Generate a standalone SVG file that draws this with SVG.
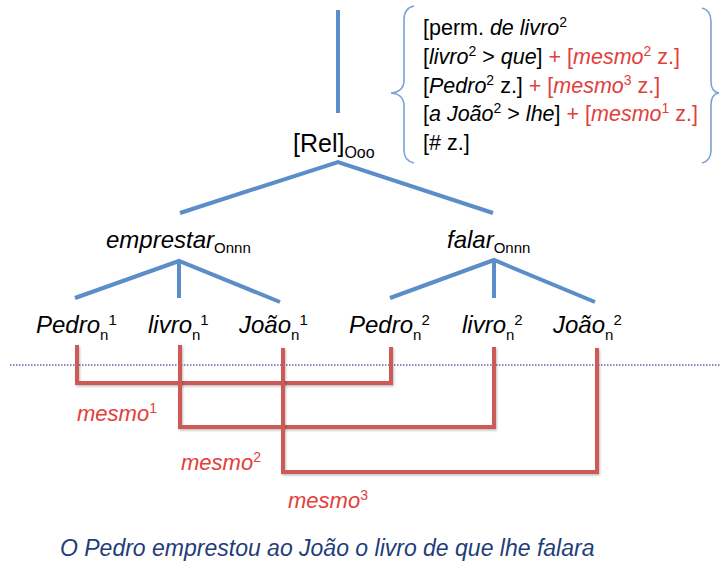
<svg xmlns="http://www.w3.org/2000/svg" width="720" height="564" viewBox="0 0 720 564">
<style>
text{font-family:"Liberation Sans",Arial,sans-serif;}
.lbl{font-size:24px;font-style:italic;fill:#000;}
.sub{font-size:15px;font-style:normal;}
.box{font-size:21.5px;fill:#000;}
.i{font-style:italic;}
.r{fill:#E2403B;}
.sup{font-size:14px;}
.mesmo{font-size:22px;font-style:italic;fill:#E2403B;}
.tree{fill:none;stroke:#5B8DC9;stroke-width:4;}
.link{fill:none;stroke:#CD5A55;stroke-width:4;filter:url(#sh);}
.brace{fill:none;stroke:#7BA3D4;stroke-width:1.6;}
</style>
<defs>
<filter id="sh" x="-5%" y="-5%" width="110%" height="120%">
<feDropShadow dx="1" dy="1.5" stdDeviation="1" flood-color="#000" flood-opacity="0.25"/>
</filter>
</defs>
<rect width="720" height="564" fill="#fff"/>
<line x1="10" y1="365" x2="720" y2="365" stroke="#6363B8" stroke-width="1.6" stroke-dasharray="1.5 1.5"/>
<g id="connectors">
<path class="tree" d="M338,10 V113"/>
<path class="tree" d="M180,213 L338,162 L493,213"/>
<path class="tree" d="M75,298 L179,261 L280,302 M179,261 V298"/>
<path class="tree" d="M390,298 L494,260 L595,302 M494,260 V298"/>
<path class="link" d="M77,345 V383 H391 V347"/>
<path class="link" d="M180,345 V427 H494 V347"/>
<path class="link" d="M283,348 V472 H597 V348"/>
</g>
<g id="rel"><text x="293" y="152" style="font-size:25px">[Rel]<tspan style="font-size:16px" dy="6">Ooo</tspan></text></g>
<g id="features">
<path class="brace" d="M414,6 Q404,8 404,20 L404,80 Q404,92 391,93 Q404,94 404,106 L404,150 Q404,161 414,163"/>
<path class="brace" d="M702,8 Q711,10 711,22 L711,81 Q711,92 719,93 Q711,94 711,105 L711,150 Q711,161 702,163"/>
<text class="box" x="423" y="35">[perm. <tspan class="i">de livro</tspan><tspan class="sup" dy="-8">2</tspan></text>
<text class="box" x="423" y="64">[<tspan class="i">livro</tspan><tspan class="sup" dy="-8">2</tspan><tspan dy="8"> &gt; </tspan><tspan class="i">que</tspan>]<tspan class="r"> + [<tspan class="i">mesmo</tspan><tspan class="sup" dy="-8">2</tspan><tspan dy="8"> z.]</tspan></tspan></text>
<text class="box" x="423" y="93">[<tspan class="i">Pedro</tspan><tspan class="sup" dy="-8">2</tspan><tspan dy="8"> z.]</tspan><tspan class="r"> + [<tspan class="i">mesmo</tspan><tspan class="sup" dy="-8">3</tspan><tspan dy="8"> z.]</tspan></tspan></text>
<text class="box" x="423" y="121">[<tspan class="i">a João</tspan><tspan class="sup" dy="-8">2</tspan><tspan dy="8"> &gt; </tspan><tspan class="i">lhe</tspan>]<tspan class="r"> + [<tspan class="i">mesmo</tspan><tspan class="sup" dy="-8">1</tspan><tspan dy="8"> z.]</tspan></tspan></text>
<text class="box" x="423" y="150">[# z.]</text>
</g>
<g id="emprestar"><text class="lbl" x="106" y="248">emprestar<tspan class="sub" dy="5">Onnn</tspan></text></g>
<g id="falar"><text class="lbl" x="447" y="248">falar<tspan class="sub" dy="5">Onnn</tspan></text></g>
<g id="pedro1"><text class="lbl" x="36" y="333">Pedro<tspan class="sub" dy="7">n</tspan><tspan class="sub" dy="-15">1</tspan></text></g>
<g id="livro1"><text class="lbl" x="148" y="333">livro<tspan class="sub" dy="7">n</tspan><tspan class="sub" dy="-15">1</tspan></text></g>
<g id="joao1"><text class="lbl" x="239" y="333">João<tspan class="sub" dy="7">n</tspan><tspan class="sub" dy="-15">1</tspan></text></g>
<g id="pedro2"><text class="lbl" x="349" y="333">Pedro<tspan class="sub" dy="7">n</tspan><tspan class="sub" dy="-15">2</tspan></text></g>
<g id="livro2"><text class="lbl" x="462" y="333">livro<tspan class="sub" dy="7">n</tspan><tspan class="sub" dy="-15">2</tspan></text></g>
<g id="joao2"><text class="lbl" x="553" y="333">João<tspan class="sub" dy="7">n</tspan><tspan class="sub" dy="-15">2</tspan></text></g>
<g id="mesmo1"><text class="mesmo" x="77" y="421">mesmo<tspan style="font-size:14px;font-style:normal" dy="-8">1</tspan></text></g>
<g id="mesmo2"><text class="mesmo" x="181" y="470">mesmo<tspan style="font-size:14px;font-style:normal" dy="-8">2</tspan></text></g>
<g id="mesmo3"><text class="mesmo" x="288" y="508">mesmo<tspan style="font-size:14px;font-style:normal" dy="-8">3</tspan></text></g>
<g id="sentence"><text x="60" y="556" style="font-size:23px;font-style:italic;fill:#1F3D7A">O Pedro emprestou ao João o livro de que lhe falara</text></g>
</svg>
